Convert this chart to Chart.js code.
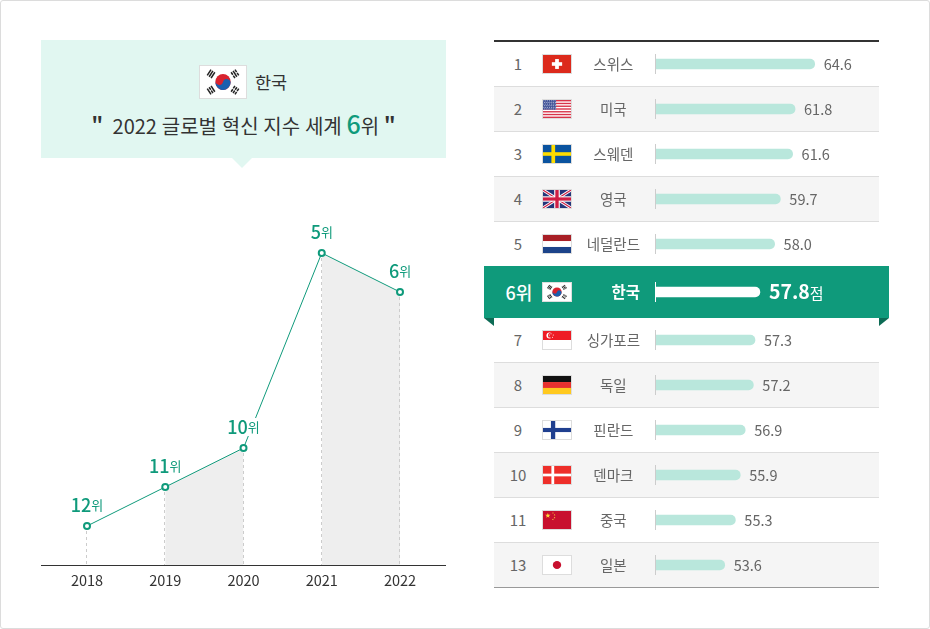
<!DOCTYPE html>
<html lang="ko">
<head>
<meta charset="utf-8">
<script src="https://cdn.jsdelivr.net/npm/chart.js@4/dist/chart.umd.min.js"></script>
<style>
  * { box-sizing: border-box; }
  html, body { margin: 0; padding: 0; background: #fff; }
  body { width: 930px; height: 629px; position: relative; overflow: hidden; font-family: "Noto Sans CJK KR", "Noto Sans", sans-serif; }
  .frame { position: absolute; inset: 0; border: 1px solid #dcdcdc; border-radius: 3px; }
  .callout { position: absolute; left: 41px; top: 40px; width: 405px; height: 118px; background: #e1f7f1; }
  .callout:after { content: ""; position: absolute; left: 191px; top: 118px; border-left: 10px solid transparent; border-right: 10px solid transparent; border-top: 10px solid #e1f7f1; }
  .country { position: absolute; left: 158px; top: 25px; display: flex; align-items: center; font-size: 17.5px; color: #333; }
  .country span { margin-left: 8px; position: relative; top: -1px; }
  .headline { position: absolute; left: 0; width: 100%; top: 63px; height: 40px; line-height: 40px; text-align: center; font-size: 20px; word-spacing: -.8px; color: #333; white-space: nowrap; }
  .headline b { font-size: 25px; font-weight: 500; color: #0f9a7b; }
  .headline i { font-style: normal; font-weight: bold; }
  .flag { display: block; border: 1px solid #ddd; background: #fff; }
  .toprule { position: absolute; left: 494px; top: 40px; width: 385px; height: 2px; background: #333; }
  .row { position: absolute; left: 494px; width: 385px; height: 45px; border-bottom: 1px solid #ddd; }
  .row.grey { background: #f5f5f5; }
  .row.last { border-bottom-color: #999; }
  .rank { position: absolute; left: 0; width: 48px; top: 0; height: 44px; line-height: 44px; text-align: center; font-size: 15px; color: #666; }
  .row .flag { position: absolute; left: 48px; top: 12px; }
  .band { position: absolute; left: 484px; top: 266px; width: 405px; height: 52px; background: #0f9a7b; }
  .band .rank { left: 10px; width: 50px; height: 52px; line-height: 52px; color: #fff; font-size: 18px; font-weight: 500; }
  .band .flag { position: absolute; left: 58px; top: 16px; }
  .fold { position: absolute; top: 318px; width: 0; height: 0; border-top: 8px solid #0d6b55; }
  .fold.l { left: 484px; border-left: 10px solid transparent; }
  .fold.r { left: 879px; border-right: 10px solid transparent; }
  canvas { position: absolute; }
</style>
</head>
<body>
<div class="frame"></div>
<div class="callout">
  <div class="country"><span id="bigFlag" style="margin:0;top:0"></span><span>한국</span></div>
  <div class="headline"><i>"</i> &nbsp;2022 글로벌 혁신 지수 세계 <b>6</b>위 <i>"</i></div>
</div>
<canvas id="rankChart" width="405" height="400" style="left:41px;top:200px"></canvas>

<div class="toprule"></div>
<div id="rows"></div>
<div class="band" id="band"></div>
<div class="fold l"></div>
<div class="fold r"></div>
<canvas id="barsTop" width="405" height="226" style="left:484px;top:41px"></canvas>
<canvas id="barsKorea" width="405" height="52" style="left:484px;top:266px"></canvas>
<canvas id="barsBottom" width="405" height="271" style="left:484px;top:317px"></canvas>

<script>
// line chart data
const years = ['2018', '2019', '2020', '2021', '2022'];
const koreaRanks = [12, 11, 10, 5, 6];

// ranking table data
const worldRanks = ['1', '2', '3', '4', '5', '6', '7', '8', '9', '10', '11', '13'];
const countries = ['스위스', '미국', '스웨덴', '영국', '네덜란드', '한국', '싱가포르', '독일', '핀란드', '덴마크', '중국', '일본'];
const flagCodes = ['ch', 'us', 'se', 'gb', 'nl', 'kr', 'sg', 'de', 'fi', 'dk', 'cn', 'jp'];
const scores = ['64.6', '61.8', '61.6', '59.7', '58.0', '57.8', '57.3', '57.2', '56.9', '55.9', '55.3', '53.6'];
// the bars in the picture are not quite proportional to the printed scores,
// so these are the lengths, in score units
const barReadings = [64.6, 62.2, 61.9, 60.4, 59.7, 57.9, 57.3, 57.1, 56.1, 55.5, 54.9, 53.6];

const GREEN = '#0f9a7b';
const FONT = '"Noto Sans CJK KR", "Noto Sans", sans-serif';
Chart.defaults.font.family = FONT;
Chart.defaults.animation = false;

// flags, all on a 30x20 grid
function bars3(x, y, angle, split) {
  let out = '';
  [-1.5, 0, 1.5].forEach((d, i) => {
    if (split[i]) {
      out += `<rect x="-2.2" y="${d - .5}" width="1.9" height="1"/><rect x=".3" y="${d - .5}" width="1.9" height="1"/>`;
    } else {
      out += `<rect x="-2.2" y="${d - .5}" width="4.4" height="1"/>`;
    }
  });
  return `<g fill="#222" transform="translate(${x} ${y}) rotate(${angle})">${out}</g>`;
}
function star(x, y, r, rot) {
  let pts = [];
  for (let i = 0; i < 10; i++) {
    const a = (rot + i * 36 - 90) * Math.PI / 180;
    const l = i % 2 ? r * .4 : r;
    pts.push((x + l * Math.cos(a)).toFixed(2) + ',' + (y + l * Math.sin(a)).toFixed(2));
  }
  return `<polygon fill="#ffd93b" points="${pts.join(' ')}"/>`;
}
function usFlag() {
  let s = '<rect width="30" height="20" fill="#fff"/>';
  for (let i = 0; i < 7; i++) s += `<rect y="${i * 20 / 6.5 - 0}" width="30" height="1.54" fill="#d8344a"/>`;
  s += '<rect width="14" height="10.8" fill="#3d4f94"/>';
  for (let r = 0; r < 6; r++) for (let c = 0; c < 7; c++) {
    s += `<rect x="${c * 2 + .5 + (r % 2)*.5}" y="${r * 1.8 + .5}" width=".9" height=".9" fill="#dfe3f2"/>`;
  }
  return s;
}
const flagArt = {
  ch: '<rect width="30" height="20" fill="#dc2a1c"/><rect x="13" y="4.5" width="4" height="11" fill="#fff"/><rect x="9.5" y="8" width="11" height="4" fill="#fff"/>',
  us: usFlag(),
  se: '<rect width="30" height="20" fill="#0a539f"/><rect x="9" width="4" height="20" fill="#fedc00"/><rect y="8" width="30" height="4" fill="#fedc00"/>',
  gb: '<rect width="30" height="20" fill="#24357a"/><path d="M0 0L30 20M30 0L0 20" stroke="#fff" stroke-width="3.4"/><path d="M0 0L30 20M30 0L0 20" stroke="#cf1f45" stroke-width="1.2"/><rect x="12" width="6" height="20" fill="#fff"/><rect y="7" width="30" height="6" fill="#fff"/><rect x="13.2" width="3.6" height="20" fill="#cf1f45"/><rect y="8.2" width="30" height="3.6" fill="#cf1f45"/>',
  nl: '<rect width="30" height="20" fill="#fff"/><rect width="30" height="6.7" fill="#a81f26"/><rect y="13.3" width="30" height="6.7" fill="#1c4389"/>',
  kr: '<rect width="30" height="20" fill="#fff"/>' +
    '<circle cx="15" cy="10" r="5" fill="#d8232f"/><path d="M10.2 8.6A5 5 0 0 0 19.8 11.4A2.5 2.5 0 0 0 15 10A2.5 2.5 0 0 1 10.2 8.6Z" fill="#1a5fae"/>' +
    bars3(7.2, 4.9, -56, [0, 0, 0]) + bars3(22.8, 4.9, 56, [1, 0, 1]) + bars3(7.2, 15.1, 56, [0, 1, 0]) + bars3(22.8, 15.1, -56, [1, 1, 1]),
  sg: '<rect width="30" height="20" fill="#fff"/><rect width="30" height="10" fill="#ee1c25"/><circle cx="7" cy="5" r="3.3" fill="#fff"/><circle cx="8.4" cy="5" r="3" fill="#ee1c25"/><circle cx="8.6" cy="3" r=".6" fill="#fff"/><circle cx="11" cy="4.4" r=".6" fill="#fff"/><circle cx="10.2" cy="7" r=".6" fill="#fff"/><circle cx="7.4" cy="7" r=".6" fill="#fff"/><circle cx="6.8" cy="4.4" r=".6" fill="#fff"/>',
  de: '<rect width="30" height="6.7" fill="#111"/><rect y="6.7" width="30" height="6.6" fill="#e8312f"/><rect y="13.3" width="30" height="6.7" fill="#ffc91f"/>',
  fi: '<rect width="30" height="20" fill="#fff"/><rect x="8.5" width="4.6" height="20" fill="#1f3f8f"/><rect y="7.7" width="30" height="4.6" fill="#1f3f8f"/>',
  dk: '<rect width="30" height="20" fill="#ee2f2a"/><rect x="9" width="3" height="20" fill="#fff"/><rect y="8.5" width="30" height="3" fill="#fff"/>',
  cn: '<rect width="30" height="20" fill="#c8102e"/>' + star(5.2, 5.2, 3, 0) + star(10.6, 2.2, 1, 20) + star(12.4, 4.4, 1, 40) + star(12.4, 7.4, 1, 0) + star(10.6, 9.4, 1, 20),
  jp: '<rect width="30" height="20" fill="#fff"/><circle cx="15" cy="10" r="4.5" fill="#c8102e"/>'
};
function flagSvg(code, w, h) {
  return `<svg class="flag" width="${w}" height="${h}" viewBox="0 0 30 20" preserveAspectRatio="none">${flagArt[code]}</svg>`;
}

// table rows behind the bar charts
document.getElementById('bigFlag').innerHTML = flagSvg('kr', 48, 34);
const greyRows = [1, 3, 7, 9, 11];
let html = '';
worldRanks.forEach((r, i) => {
  if (i === 5) return;
  const top = i < 5 ? 42 + i * 45 : 318 + (i - 6) * 45;
  const cls = 'row' + (greyRows.includes(i) ? ' grey' : '') + (i === worldRanks.length - 1 ? ' last' : '');
  html += `<div class="${cls}" style="top:${top}px"><div class="rank">${r}</div>${flagSvg(flagCodes[i], 30, 20)}</div>`;
});
document.getElementById('rows').innerHTML = html;
document.getElementById('band').innerHTML = `<div class="rank">${worldRanks[5]}위</div>${flagSvg(flagCodes[5], 30, 20)}`;

// rank labels, drop lines and axis rule for the line chart
const rankDecor = {
  id: 'rankDecor',
  afterDatasetsDraw(chart) {
    const { ctx, chartArea } = chart;
    const pts = chart.getDatasetMeta(0).data;
    ctx.save();
    ctx.strokeStyle = '#ccc';
    ctx.lineWidth = 1;
    ctx.setLineDash([3, 3]);
    pts.forEach(p => {
      const x = Math.round(p.x) - .5;
      ctx.beginPath();
      ctx.moveTo(x, p.y + 5);
      ctx.lineTo(x, chartArea.bottom);
      ctx.stroke();
    });
    ctx.setLineDash([]);
    ctx.fillStyle = '#333';
    ctx.fillRect(0, chartArea.bottom, chart.width, 1);
    ctx.textBaseline = 'middle';
    pts.forEach((p, i) => {
      const big = String(koreaRanks[i]);
      ctx.font = '500 18px ' + FONT;
      const w1 = ctx.measureText(big).width;
      ctx.font = '13px ' + FONT;
      const w2 = ctx.measureText('위').width;
      const left = p.x - (w1 + w2) / 2;
      ctx.fillStyle = '#fff';
      ctx.fillRect(left - 1, p.y - 30, w1 + w2 + 2, 18);
      ctx.fillStyle = GREEN;
      ctx.font = '500 18px ' + FONT;
      ctx.fillText(big, left, p.y - 21);
      ctx.font = '13px ' + FONT;
      ctx.fillText('위', left + w1, p.y - 21);
    });
    ctx.restore();
  }
};

new Chart(document.getElementById('rankChart'), {
  type: 'line',
  data: {
    labels: years,
    datasets: [
      { data: koreaRanks, borderColor: GREEN, borderWidth: 1, tension: 0, clip: false,
        pointRadius: 3, pointBorderWidth: 2, pointBorderColor: GREEN, pointBackgroundColor: '#fff' },
      // grey bands under 2019-2020 and 2021-2022
      { data: koreaRanks.map((r, i) => (i === 1 || i === 2) ? r : null), borderWidth: 0, pointRadius: 0, fill: { value: 13 }, backgroundColor: '#eee' },
      { data: koreaRanks.map((r, i) => (i === 3 || i === 4) ? r : null), borderWidth: 0, pointRadius: 0, fill: { value: 13 }, backgroundColor: '#eee' }
    ]
  },
  options: {
    responsive: false,
    layout: { padding: { top: 53, left: 46, right: 46 } },
    plugins: { legend: { display: false }, tooltip: { enabled: false } },
    scales: {
      x: {
        offset: false,
        grid: { display: false, drawTicks: false },
        border: { display: false },
        ticks: { color: '#333', font: { size: 14.5 }, padding: 7, maxRotation: 0 },
        afterFit: s => { s.height = 35; }
      },
      y: { display: false, reverse: true, min: 5, max: 13 }
    }
  },
  plugins: [rankDecor]
});

// short tick at the start of each bar and the score after it
const barDecor = {
  id: 'barDecor',
  afterDatasetsDraw(chart, args, opts) {
    const { ctx, chartArea } = chart;
    ctx.save();
    ctx.textBaseline = 'middle';
    chart.getDatasetMeta(0).data.forEach((bar, i) => {
      ctx.fillStyle = opts.tickColor;
      ctx.fillRect(chartArea.left - 1, bar.y - 10, 1, 20);
      ctx.fillStyle = opts.textColor;
      ctx.font = opts.font + FONT;
      const text = opts.scores[i];
      ctx.fillText(text, bar.x + 9, bar.y);
      if (opts.unit) {
        const w = ctx.measureText(text).width;
        ctx.font = '15px ' + FONT;
        ctx.fillText(opts.unit, bar.x + 9 + w, bar.y + 1);
      }
    });
    ctx.restore();
  }
};

function barChart(id, from, to, highlight) {
  return new Chart(document.getElementById(id), {
    type: 'bar',
    data: {
      labels: countries.slice(from, to),
      datasets: [{
        data: barReadings.slice(from, to),
        backgroundColor: highlight ? '#fff' : '#b9e7dc',
        barThickness: 10,
        borderSkipped: false,
        borderRadius: { topLeft: 0, bottomLeft: 0, topRight: 5, bottomRight: 5 }
      }]
    },
    options: {
      indexAxis: 'y',
      responsive: false,
      layout: { padding: { top: highlight ? 0 : .5, bottom: highlight ? 0 : .5, right: 10 } },
      plugins: {
        legend: { display: false },
        tooltip: { enabled: false },
        barDecor: {
          scores: scores.slice(from, to),
          tickColor: highlight ? '#fff' : '#ccc',
          textColor: highlight ? '#fff' : '#666',
          font: highlight ? 'bold 19.5px ' : '14.5px ',
          unit: highlight ? '점' : ''
        }
      },
      scales: {
        x: { display: false, min: 45.2, max: 72.46 },
        y: {
          grid: { display: false, drawTicks: false },
          border: { display: false },
          ticks: {
            padding: 16,
            crossAlign: highlight ? 'near' : 'center',
            color: highlight ? '#fff' : '#666',
            font: { size: highlight ? 15.5 : 14.5, weight: highlight ? 'bold' : 'normal' }
          },
          // tick padding would otherwise eat into the rows above and below
          afterFit: s => { s.width = 172; s.paddingTop = 0; s.paddingBottom = 0; }
        }
      }
    },
    plugins: [barDecor]
  });
}
barChart('barsTop', 0, 5, false);
barChart('barsKorea', 5, 6, true);
barChart('barsBottom', 6, 12, false);
</script>
</body>
</html>
